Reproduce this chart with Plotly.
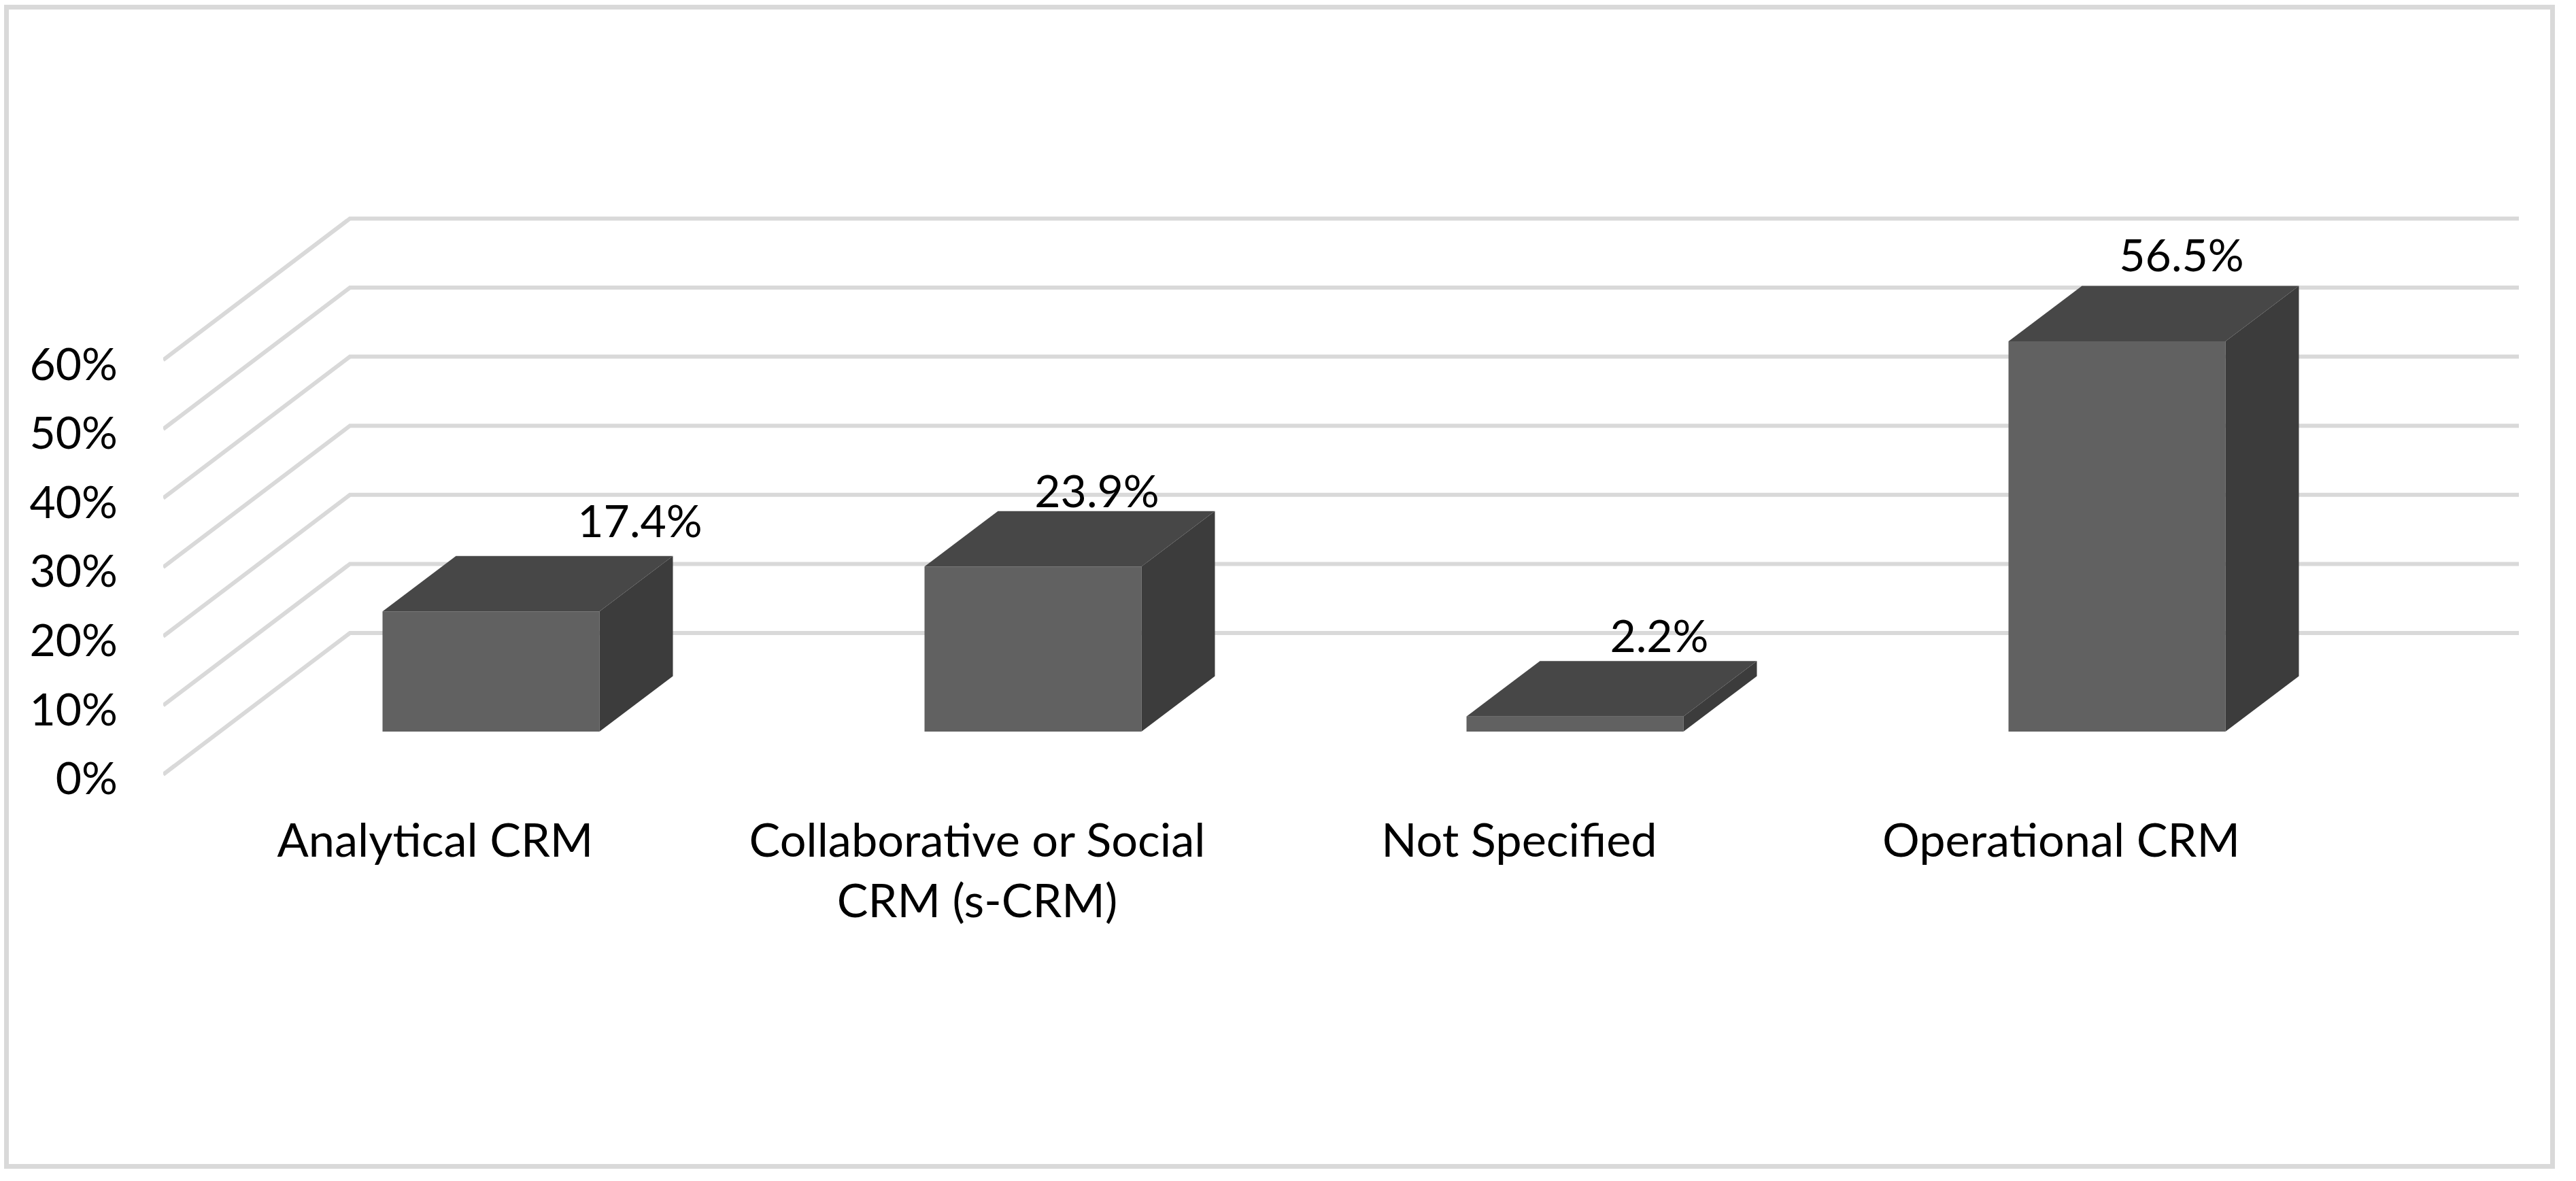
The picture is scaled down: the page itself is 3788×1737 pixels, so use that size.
import plotly.graph_objects as go

# ---- data ----
categories = ["Analytical CRM", "Collaborative or Social<br>CRM (s-CRM)", "Not Specified", "Operational CRM"]
values = [17.4, 23.9, 2.2, 56.5]
tick_values = [0, 10, 20, 30, 40, 50, 60]
label_dx_px = [219, 94, 124, 95]
label_dy_px = [-126, -104, -111, -119]

# ---- geometry ----
W, H = 3788, 1737
PLOT_L, PLOT_R, PLOT_T, PLOT_B = 240, 3704, 250, 1190
CAT0_PX, CAT_STEP_PX = 722.0, 797.0
PX_PER_PCT = 10.16
WALL_ZERO_PX = 1139.0
TICK_ZERO_PX = 1145.0
BAR_ZERO_PX = 1076.0
BAR_W_PX = 319.0
BAR_DX_PX, BAR_DY_PX = 108.0, 81.5
GRID_DX_PX, GRID_DY_PX = 274.6, 208.0
LABEL_SHIFT_PX = 82.0
FONT = "Lato"
FS = 66
CAT_FS = 68.5

FRONT, TOP, SIDE = "#616161", "#474747", "#3c3c3c"
GRID = "#d9d9d9"
TEXT = "#000000"


def xu(px):
    return (px - CAT0_PX) / CAT_STEP_PX


def yrange(zero_px):
    return [(zero_px - PLOT_B) / PX_PER_PCT, (zero_px - PLOT_T) / PX_PER_PCT]


dx = BAR_DX_PX / CAT_STEP_PX
dy = BAR_DY_PX / PX_PER_PCT
half = BAR_W_PX / CAT_STEP_PX / 2
idx = list(range(len(categories)))
wall_shift = (TICK_ZERO_PX - WALL_ZERO_PX) / PX_PER_PCT

fig = go.Figure()

# gridlines: front wall -> back wall -> right end
for t in tick_values:
    y_front = t + wall_shift
    y_back = y_front + GRID_DY_PX / PX_PER_PCT
    fig.add_trace(go.Scatter(
        x=[xu(PLOT_L), xu(PLOT_L + GRID_DX_PX), xu(PLOT_R)],
        y=[y_front, y_back, y_back],
        mode="lines", line=dict(color=GRID, width=6),
        cliponaxis=False, showlegend=False, hoverinfo="skip",
    ))

# front faces
fig.add_trace(go.Bar(
    x=idx, y=values, width=BAR_W_PX / CAT_STEP_PX, yaxis="y2",
    marker=dict(color=FRONT, line=dict(width=0)), showlegend=False,
))

# side and top faces
for i, v in zip(idx, values):
    fig.add_trace(go.Scatter(
        x=[i + half, i + half + dx, i + half + dx, i + half, i + half],
        y=[0, dy, v + dy, v, 0], yaxis="y2",
        mode="lines", fill="toself", fillcolor=SIDE, line=dict(width=0),
        showlegend=False, hoverinfo="skip",
    ))
    fig.add_trace(go.Scatter(
        x=[i - half, i - half + dx, i + half + dx, i + half, i - half],
        y=[v, v + dy, v + dy, v, v], yaxis="y2",
        mode="lines", fill="toself", fillcolor=TOP, line=dict(width=0),
        showlegend=False, hoverinfo="skip",
    ))

# data labels
fig.add_trace(go.Scatter(
    x=[i + d / CAT_STEP_PX for i, d in zip(idx, label_dx_px)],
    y=[v - d / PX_PER_PCT for v, d in zip(values, label_dy_px)],
    text=[f"{v:.1f}%" for v in values], yaxis="y2",
    mode="text", textposition="middle center",
    textfont=dict(family=FONT, size=FS, color=TEXT),
    showlegend=False, hoverinfo="skip",
))

# outer frame, pixel position expressed in paper units
pw, ph = PLOT_R - PLOT_L, PLOT_B - PLOT_T
fig.add_shape(
    type="rect", xref="paper", yref="paper",
    x0=(9.5 - PLOT_L) / pw, x1=(3753.5 - PLOT_L) / pw,
    y0=(PLOT_B - 1715.5) / ph, y1=(PLOT_B - 10.5) / ph,
    line=dict(color=GRID, width=7), fillcolor="rgba(0,0,0,0)", layer="below",
)

fig.update_layout(
    width=W, height=H,
    margin=dict(l=PLOT_L, r=W - PLOT_R, t=PLOT_T, b=H - PLOT_B, pad=0),
    paper_bgcolor="white", plot_bgcolor="rgba(0,0,0,0)",
    showlegend=False,
    font=dict(family=FONT, size=FS, color=TEXT),
    xaxis=dict(
        range=[xu(PLOT_L), xu(PLOT_R)], showgrid=False, zeroline=False, showline=False,
        tickmode="array", tickvals=[i - LABEL_SHIFT_PX / CAT_STEP_PX for i in idx],
        ticktext=categories, ticks="", ticklabelstandoff=0,
        tickfont=dict(family=FONT, size=CAT_FS, color=TEXT), tickangle=0,
    ),
    yaxis=dict(
        range=yrange(TICK_ZERO_PX), showgrid=False, zeroline=False, showline=False,
        tickmode="array", tickvals=tick_values, ticktext=[f"{t}%" for t in tick_values],
        ticks="", ticklabelstandoff=66,
        tickfont=dict(family=FONT, size=FS, color=TEXT),
    ),
    yaxis2=dict(
        range=yrange(BAR_ZERO_PX), overlaying="y", side="left", visible=False,
    ),
)

fig.write_html("out.html", config={"displayModeBar": False},
               post_script="document.body.style.margin='0';")
